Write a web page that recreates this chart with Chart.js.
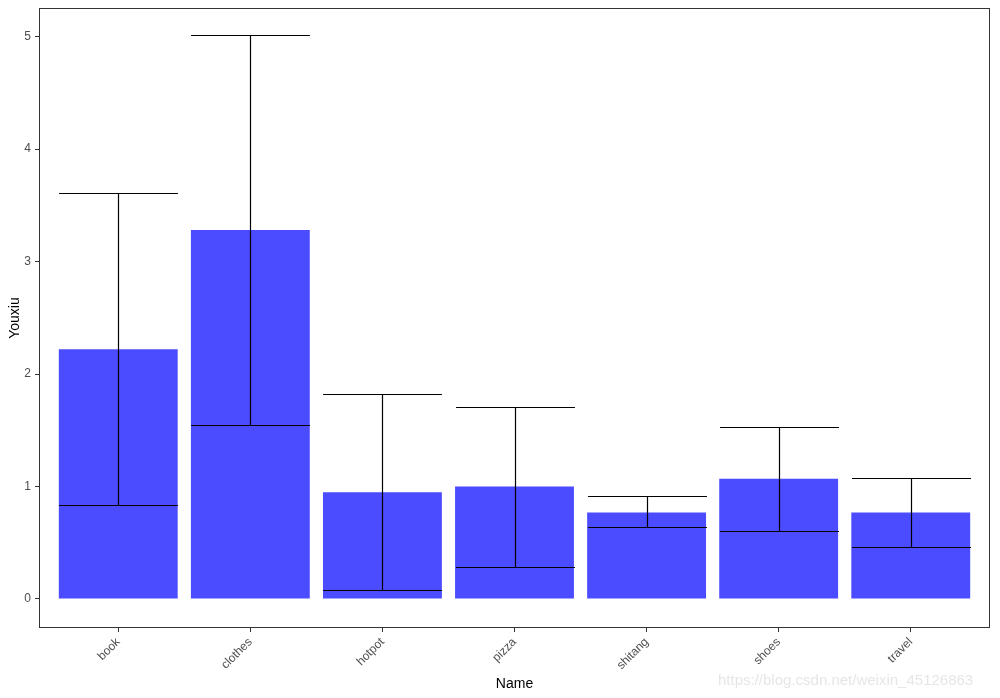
<!DOCTYPE html>
<html>
<head>
<meta charset="utf-8">
<script src="https://cdn.jsdelivr.net/npm/chart.js@4/dist/chart.umd.min.js"></script>
<style>
  body { margin: 0; background: #fff; }
  #wrap { position: relative; width: 1000px; height: 698px; }
  #mark { position: absolute; left: 718px; top: 671px; font: 15px "Liberation Sans", Arial, sans-serif; color: #e6e6e6; }
</style>
</head>
<body>
<div id="wrap">
  <canvas id="barChart" width="1000" height="698"></canvas>
  <div id="mark">https://blog.csdn.net/weixin_45126863</div>
</div>
<script>
// data
const names = ['book', 'clothes', 'hotpot', 'pizza', 'shitang', 'shoes', 'travel'];
const youxiu = [2.22, 3.28, 0.95, 1.0, 0.77, 1.07, 0.77];
const errLow = [0.836, 1.547, 0.077, 0.282, 0.638, 0.602, 0.46];
const errHigh = [3.61, 5.015, 1.82, 1.705, 0.913, 1.527, 1.073];
const yTicks = [0, 1, 2, 3, 4, 5];

// error bars + panel frame
const errorBars = {
    id: 'errorBars',
    afterDatasetsDraw(chart) {
        const xs = chart.scales.x, ys = chart.scales.y;
        const meta = chart.getDatasetMeta(0);
        const c = chart.ctx;
        c.save();
        c.strokeStyle = '#000';
        c.lineWidth = 1.2;
        names.forEach((n, i) => {
            const x = Math.round(xs.getPixelForValue(i)) + 0.5;
            const half = meta.data[i].width / 2;
            const lo = Math.round(ys.getPixelForValue(errLow[i])) + 0.5;
            const hi = Math.round(ys.getPixelForValue(errHigh[i])) + 0.5;
            c.beginPath();
            c.moveTo(x, lo); c.lineTo(x, hi);
            c.moveTo(x - half, lo); c.lineTo(x + half, lo);
            c.moveTo(x - half, hi); c.lineTo(x + half, hi);
            c.stroke();
        });
        const a = chart.chartArea;
        c.strokeStyle = '#333';
        c.lineWidth = 1;
        c.strokeRect(a.left + 0.5, a.top + 0.5, a.right - a.left - 1, a.bottom - a.top - 1);
        c.restore();
    }
};

const ctx = document.getElementById('barChart').getContext('2d');
const barChart = new Chart(ctx, {
    type: 'bar',
    data: {
        datasets: [{
            data: names.map((n, i) => ({ x: i, y: youxiu[i] })),
            backgroundColor: '#4b4bff',
            borderWidth: 0,
            categoryPercentage: 1,
            barPercentage: 0.9
        }]
    },
    options: {
        responsive: false,
        animation: false,
        layout: { padding: { top: 8, right: 10, left: 0, bottom: 0 } },
        plugins: { legend: { display: false }, tooltip: { enabled: false } },
        scales: {
            x: {
                type: 'linear',
                offset: false,
                min: -0.6,
                max: 6.6,
                afterFit: s => { s.height = 70; s.paddingLeft = 0; s.paddingRight = 0; },
                afterBuildTicks: s => { s.ticks = names.map((n, i) => ({ value: i })); },
                ticks: {
                    includeBounds: false,
                    stepSize: 1,
                    autoSkip: false,
                    minRotation: 45,
                    maxRotation: 45,
                    padding: 3,
                    color: '#4d4d4d',
                    font: { family: 'Liberation Sans', size: 12 },
                    callback: v => names[v]
                },
                grid: { offset: false, drawOnChartArea: false, tickLength: 4, tickColor: '#333' },
                border: { display: false },
                title: {
                    display: true, text: 'Name', color: '#000',
                    font: { family: 'Liberation Sans', size: 14 },
                    padding: { top: 0, bottom: 5 }
                }
            },
            y: {
                min: -0.258,
                max: 5.255,
                afterFit: s => { s.width = 39; s.paddingTop = 0; s.paddingBottom = 0; },
                afterBuildTicks: s => { s.ticks = yTicks.map(v => ({ value: v })); },
                ticks: {
                    includeBounds: false,
                    padding: 4,
                    color: '#4d4d4d',
                    font: { family: 'Liberation Sans', size: 12 }
                },
                grid: { drawOnChartArea: false, tickLength: 4, tickColor: '#333' },
                border: { display: false },
                title: {
                    display: true, text: 'Youxiu', color: '#000',
                    font: { family: 'Liberation Sans', size: 14 },
                    padding: { top: 7, bottom: 0 }
                }
            }
        }
    },
    plugins: [errorBars]
});
</script>
</body>
</html>
